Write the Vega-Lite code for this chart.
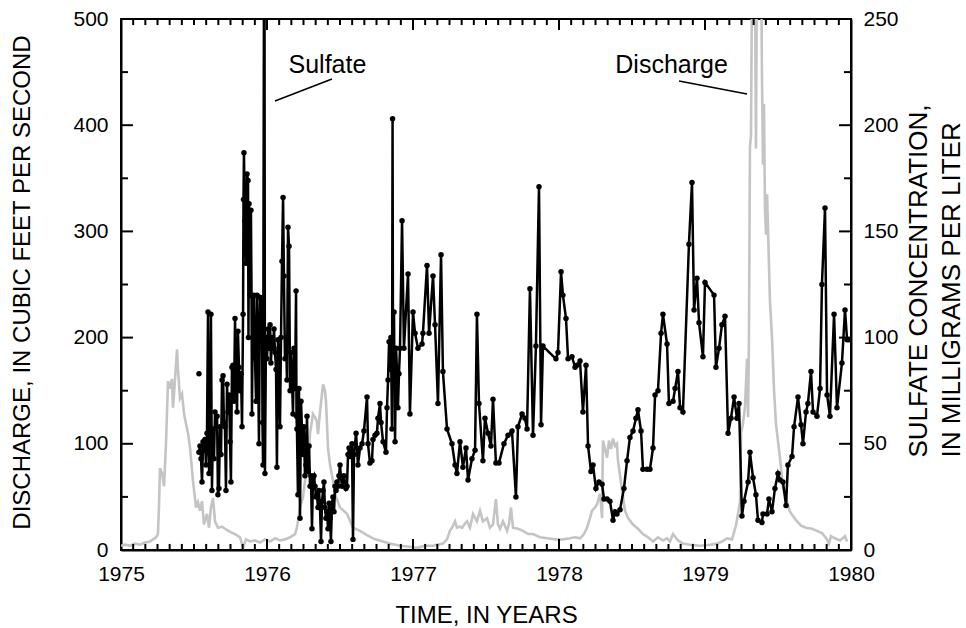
{
  "$schema": "https://vega.github.io/schema/vega-lite/v6.json",
  "width": 730,
  "height": 531,
  "autosize": "none",
  "padding": {"left": 121, "top": 19, "right": 115, "bottom": 78},
  "background": "white",
  "config": {
    "view": {"stroke": "black", "strokeWidth": 2},
    "font": "Liberation Sans",
    "axis": {
      "labelFont": "Liberation Sans",
      "titleFont": "Liberation Sans",
      "labelColor": "black",
      "titleColor": "black",
      "titleFontWeight": "normal",
      "grid": false,
      "domainColor": "black",
      "domainWidth": 2,
      "labelOverlap": false,
      "labelFlush": false
    }
  },
  "datasets": {
    "discharge": [
      {"year":1975.000,"q":4},{"year":1975.027,"q":5},{"year":1975.062,"q":4},{"year":1975.096,"q":6},{"year":1975.130,"q":5},{"year":1975.164,"q":7},{"year":1975.199,"q":8},{"year":1975.219,"q":10},{"year":1975.240,"q":12},{"year":1975.253,"q":15},{"year":1975.260,"q":40},{"year":1975.267,"q":77},{"year":1975.281,"q":72},{"year":1975.295,"q":60},{"year":1975.308,"q":100},{"year":1975.322,"q":159},{"year":1975.336,"q":152},{"year":1975.349,"q":161},{"year":1975.356,"q":134},{"year":1975.363,"q":147},{"year":1975.377,"q":175},{"year":1975.384,"q":189},{"year":1975.390,"q":171},{"year":1975.404,"q":143},{"year":1975.418,"q":147},{"year":1975.432,"q":128},{"year":1975.445,"q":119},{"year":1975.459,"q":110},{"year":1975.473,"q":96},{"year":1975.493,"q":65},{"year":1975.514,"q":40},{"year":1975.527,"q":45},{"year":1975.541,"q":37},{"year":1975.555,"q":46},{"year":1975.568,"q":24},{"year":1975.589,"q":34},{"year":1975.603,"q":21},{"year":1975.616,"q":40},{"year":1975.630,"q":49},{"year":1975.644,"q":27},{"year":1975.664,"q":21},{"year":1975.692,"q":22},{"year":1975.712,"q":20},{"year":1975.747,"q":17},{"year":1975.781,"q":15},{"year":1975.815,"q":12},{"year":1975.836,"q":2},{"year":1975.856,"q":10},{"year":1975.884,"q":8},{"year":1975.918,"q":9},{"year":1975.952,"q":7},{"year":1975.986,"q":10},
      {"year":1976.021,"q":8},{"year":1976.055,"q":11},{"year":1976.089,"q":9},{"year":1976.123,"q":10},{"year":1976.158,"q":12},{"year":1976.192,"q":15},{"year":1976.205,"q":21},{"year":1976.226,"q":40},{"year":1976.247,"q":50},{"year":1976.260,"q":65},{"year":1976.281,"q":80},{"year":1976.295,"q":110},{"year":1976.315,"q":128},{"year":1976.329,"q":125},{"year":1976.342,"q":121},{"year":1976.349,"q":109},{"year":1976.363,"q":130},{"year":1976.384,"q":156},{"year":1976.397,"q":150},{"year":1976.404,"q":140},{"year":1976.418,"q":96},{"year":1976.432,"q":80},{"year":1976.452,"q":65},{"year":1976.473,"q":50},{"year":1976.500,"q":40},{"year":1976.548,"q":34},{"year":1976.589,"q":21},{"year":1976.637,"q":18},{"year":1976.685,"q":14},{"year":1976.740,"q":10},{"year":1976.795,"q":8},{"year":1976.842,"q":6},{"year":1976.911,"q":4},{"year":1976.979,"q":3},
      {"year":1977.027,"q":2},{"year":1977.082,"q":4},{"year":1977.137,"q":4},{"year":1977.205,"q":6},{"year":1977.233,"q":10},{"year":1977.253,"q":18},{"year":1977.267,"q":21},{"year":1977.288,"q":27},{"year":1977.301,"q":21},{"year":1977.322,"q":22},{"year":1977.336,"q":21},{"year":1977.356,"q":25},{"year":1977.370,"q":27},{"year":1977.390,"q":21},{"year":1977.411,"q":34},{"year":1977.438,"q":27},{"year":1977.459,"q":37},{"year":1977.479,"q":27},{"year":1977.507,"q":30},{"year":1977.527,"q":21},{"year":1977.548,"q":24},{"year":1977.568,"q":48},{"year":1977.582,"q":24},{"year":1977.596,"q":20},{"year":1977.616,"q":27},{"year":1977.644,"q":18},{"year":1977.658,"q":25},{"year":1977.671,"q":40},{"year":1977.685,"q":21},{"year":1977.719,"q":20},{"year":1977.753,"q":18},{"year":1977.788,"q":15},{"year":1977.822,"q":15},{"year":1977.870,"q":12},{"year":1977.918,"q":11},{"year":1977.973,"q":10},
      {"year":1978.027,"q":10},{"year":1978.075,"q":11},{"year":1978.110,"q":12},{"year":1978.144,"q":11},{"year":1978.171,"q":15},{"year":1978.192,"q":21},{"year":1978.212,"q":30},{"year":1978.226,"q":37},{"year":1978.247,"q":40},{"year":1978.260,"q":43},{"year":1978.281,"q":53},{"year":1978.295,"q":30},{"year":1978.301,"q":103},{"year":1978.315,"q":95},{"year":1978.329,"q":87},{"year":1978.342,"q":103},{"year":1978.356,"q":95},{"year":1978.370,"q":105},{"year":1978.384,"q":98},{"year":1978.397,"q":100},{"year":1978.404,"q":84},{"year":1978.418,"q":70},{"year":1978.432,"q":56},{"year":1978.452,"q":37},{"year":1978.473,"q":30},{"year":1978.507,"q":24},{"year":1978.541,"q":20},{"year":1978.575,"q":15},{"year":1978.610,"q":12},{"year":1978.644,"q":8},{"year":1978.678,"q":12},{"year":1978.712,"q":9},{"year":1978.740,"q":11},{"year":1978.760,"q":8},{"year":1978.781,"q":15},{"year":1978.815,"q":9},{"year":1978.849,"q":6},{"year":1978.897,"q":5},{"year":1978.966,"q":4},
      {"year":1979.034,"q":5},{"year":1979.082,"q":6},{"year":1979.116,"q":8},{"year":1979.151,"q":11},{"year":1979.185,"q":10},{"year":1979.212,"q":23},{"year":1979.226,"q":34},{"year":1979.240,"q":46},{"year":1979.247,"q":110},{"year":1979.260,"q":119},{"year":1979.274,"q":135},{"year":1979.288,"q":180},{"year":1979.295,"q":125},{"year":1979.301,"q":200},{"year":1979.308,"q":380},{"year":1979.315,"q":390},{"year":1979.322,"q":540},{"year":1979.342,"q":560},{"year":1979.349,"q":378},{"year":1979.356,"q":560},{"year":1979.384,"q":560},{"year":1979.390,"q":450},{"year":1979.397,"q":363},{"year":1979.404,"q":420},{"year":1979.411,"q":320},{"year":1979.418,"q":297},{"year":1979.425,"q":335},{"year":1979.432,"q":300},{"year":1979.445,"q":234},{"year":1979.459,"q":200},{"year":1979.473,"q":150},{"year":1979.486,"q":119},{"year":1979.514,"q":86},{"year":1979.534,"q":59},{"year":1979.582,"q":36},{"year":1979.623,"q":28},{"year":1979.658,"q":23},{"year":1979.692,"q":21},{"year":1979.733,"q":20},{"year":1979.767,"q":18},{"year":1979.801,"q":16},{"year":1979.836,"q":10},{"year":1979.849,"q":6},{"year":1979.863,"q":13},{"year":1979.890,"q":11},{"year":1979.925,"q":9},{"year":1979.959,"q":13},{"year":1979.973,"q":8}
    ],
    "sulfate": [
      {"year":1975.534,"so4":83,"seg":"a"},
      {"year":1975.534,"so4":46,"seg":"b"},{"year":1975.541,"so4":49,"seg":"b"},{"year":1975.548,"so4":43,"seg":"b"},{"year":1975.555,"so4":32,"seg":"b"},{"year":1975.562,"so4":51,"seg":"b"},{"year":1975.568,"so4":47,"seg":"b"},{"year":1975.575,"so4":52,"seg":"b"},{"year":1975.582,"so4":40,"seg":"b"},{"year":1975.589,"so4":55,"seg":"b"},{"year":1975.596,"so4":112,"seg":"b"},{"year":1975.603,"so4":36,"seg":"b"},{"year":1975.610,"so4":45,"seg":"b"},{"year":1975.616,"so4":111,"seg":"b"},{"year":1975.623,"so4":28,"seg":"b"},{"year":1975.630,"so4":57,"seg":"b"},{"year":1975.637,"so4":43,"seg":"b"},{"year":1975.644,"so4":65,"seg":"b"},{"year":1975.658,"so4":63,"seg":"b"},{"year":1975.664,"so4":26,"seg":"b"},{"year":1975.671,"so4":29,"seg":"b"},{"year":1975.678,"so4":58,"seg":"b"},{"year":1975.685,"so4":45,"seg":"b"},{"year":1975.692,"so4":80,"seg":"b"},{"year":1975.699,"so4":82,"seg":"b"},{"year":1975.705,"so4":60,"seg":"b"},{"year":1975.712,"so4":58,"seg":"b"},{"year":1975.719,"so4":28,"seg":"b"},{"year":1975.726,"so4":78,"seg":"b"},{"year":1975.733,"so4":65,"seg":"b"},{"year":1975.740,"so4":73,"seg":"b"},{"year":1975.747,"so4":51,"seg":"b"},{"year":1975.753,"so4":32,"seg":"b"},{"year":1975.760,"so4":86,"seg":"b"},{"year":1975.767,"so4":87,"seg":"b"},{"year":1975.774,"so4":70,"seg":"b"},{"year":1975.781,"so4":109,"seg":"b"},{"year":1975.788,"so4":80,"seg":"b"},{"year":1975.795,"so4":65,"seg":"b"},{"year":1975.801,"so4":103,"seg":"b"},{"year":1975.808,"so4":86,"seg":"b"},{"year":1975.815,"so4":75,"seg":"b"},{"year":1975.822,"so4":83,"seg":"b"},{"year":1975.829,"so4":58,"seg":"b"},{"year":1975.836,"so4":111,"seg":"b"},{"year":1975.839,"so4":165,"seg":"b"},{"year":1975.842,"so4":187,"seg":"b"},{"year":1975.849,"so4":155,"seg":"b"},{"year":1975.856,"so4":135,"seg":"b"},{"year":1975.863,"so4":177,"seg":"b"},{"year":1975.870,"so4":174,"seg":"b"},{"year":1975.873,"so4":100,"seg":"b"},{"year":1975.877,"so4":163,"seg":"b"},{"year":1975.884,"so4":120,"seg":"b"},{"year":1975.890,"so4":160,"seg":"b"},{"year":1975.894,"so4":120,"seg":"b"},{"year":1975.897,"so4":64,"seg":"b"},{"year":1975.904,"so4":119,"seg":"b"},{"year":1975.911,"so4":120,"seg":"b"},{"year":1975.918,"so4":90,"seg":"b"},{"year":1975.925,"so4":70,"seg":"b"},{"year":1975.932,"so4":120,"seg":"b"},{"year":1975.938,"so4":95,"seg":"b"},{"year":1975.945,"so4":50,"seg":"b"},{"year":1975.952,"so4":119,"seg":"b"},{"year":1975.959,"so4":106,"seg":"b"},{"year":1975.966,"so4":117,"seg":"b"},{"year":1975.969,"so4":60,"seg":"b"},{"year":1975.973,"so4":40,"seg":"b"},{"year":1975.979,"so4":260,"seg":"b"},{"year":1975.983,"so4":260,"seg":"b"},{"year":1975.986,"so4":36,"seg":"b"},
      {"year":1975.993,"so4":100,"seg":"b"},{"year":1976.000,"so4":90,"seg":"b"},{"year":1976.007,"so4":104,"seg":"b"},{"year":1976.014,"so4":95,"seg":"b"},{"year":1976.021,"so4":106,"seg":"b"},{"year":1976.027,"so4":88,"seg":"b"},{"year":1976.034,"so4":100,"seg":"b"},{"year":1976.041,"so4":95,"seg":"b"},{"year":1976.048,"so4":104,"seg":"b"},{"year":1976.055,"so4":93,"seg":"b"},{"year":1976.062,"so4":85,"seg":"b"},{"year":1976.068,"so4":39,"seg":"b"},{"year":1976.075,"so4":99,"seg":"b"},{"year":1976.082,"so4":95,"seg":"b"},{"year":1976.089,"so4":58,"seg":"b"},{"year":1976.096,"so4":100,"seg":"b"},{"year":1976.103,"so4":136,"seg":"b"},{"year":1976.110,"so4":166,"seg":"b"},{"year":1976.116,"so4":129,"seg":"b"},{"year":1976.123,"so4":90,"seg":"b"},{"year":1976.130,"so4":100,"seg":"b"},{"year":1976.137,"so4":80,"seg":"b"},{"year":1976.144,"so4":152,"seg":"b"},{"year":1976.151,"so4":143,"seg":"b"},{"year":1976.158,"so4":75,"seg":"b"},{"year":1976.164,"so4":93,"seg":"b"},{"year":1976.171,"so4":81,"seg":"b"},{"year":1976.178,"so4":64,"seg":"b"},{"year":1976.185,"so4":95,"seg":"b"},{"year":1976.192,"so4":76,"seg":"b"},{"year":1976.199,"so4":122,"seg":"b"},{"year":1976.202,"so4":63,"seg":"b"},{"year":1976.205,"so4":57,"seg":"b"},{"year":1976.212,"so4":26,"seg":"b"},{"year":1976.219,"so4":76,"seg":"b"},{"year":1976.226,"so4":15,"seg":"b"},{"year":1976.233,"so4":70,"seg":"b"},{"year":1976.240,"so4":56,"seg":"b"},{"year":1976.247,"so4":45,"seg":"b"},{"year":1976.253,"so4":58,"seg":"b"},{"year":1976.260,"so4":35,"seg":"b"},{"year":1976.267,"so4":40,"seg":"b"},{"year":1976.274,"so4":63,"seg":"b"},{"year":1976.281,"so4":37,"seg":"b"},{"year":1976.288,"so4":49,"seg":"b"},{"year":1976.295,"so4":30,"seg":"b"},{"year":1976.301,"so4":35,"seg":"b"},{"year":1976.308,"so4":10,"seg":"b"},{"year":1976.315,"so4":34,"seg":"b"},{"year":1976.322,"so4":35,"seg":"b"},{"year":1976.329,"so4":30,"seg":"b"},{"year":1976.336,"so4":25,"seg":"b"},{"year":1976.342,"so4":26,"seg":"b"},{"year":1976.349,"so4":20,"seg":"b"},{"year":1976.356,"so4":28,"seg":"b"},{"year":1976.363,"so4":20,"seg":"b"},{"year":1976.370,"so4":4,"seg":"b"},{"year":1976.377,"so4":23,"seg":"b"},{"year":1976.384,"so4":28,"seg":"b"},{"year":1976.390,"so4":32,"seg":"b"},{"year":1976.397,"so4":20,"seg":"b"},{"year":1976.404,"so4":15,"seg":"b"},{"year":1976.411,"so4":18,"seg":"b"},{"year":1976.418,"so4":10,"seg":"b"},{"year":1976.425,"so4":22,"seg":"b"},{"year":1976.432,"so4":15,"seg":"b"},{"year":1976.438,"so4":4,"seg":"b"},{"year":1976.445,"so4":22,"seg":"b"},{"year":1976.452,"so4":25,"seg":"b"},{"year":1976.459,"so4":18,"seg":"b"},{"year":1976.466,"so4":30,"seg":"b"},{"year":1976.473,"so4":28,"seg":"b"},{"year":1976.479,"so4":32,"seg":"b"},{"year":1976.486,"so4":30,"seg":"b"},{"year":1976.493,"so4":35,"seg":"b"},{"year":1976.500,"so4":40,"seg":"b"},{"year":1976.507,"so4":34,"seg":"b"},{"year":1976.514,"so4":30,"seg":"b"},{"year":1976.527,"so4":35,"seg":"b"},{"year":1976.541,"so4":29,"seg":"b"},{"year":1976.548,"so4":30,"seg":"b"},{"year":1976.555,"so4":45,"seg":"b"},{"year":1976.562,"so4":48,"seg":"b"},{"year":1976.568,"so4":44,"seg":"b"},{"year":1976.582,"so4":50,"seg":"b"},{"year":1976.589,"so4":5,"seg":"b"},{"year":1976.596,"so4":45,"seg":"b"},{"year":1976.610,"so4":55,"seg":"b"},{"year":1976.623,"so4":40,"seg":"b"},{"year":1976.637,"so4":48,"seg":"b"},{"year":1976.651,"so4":50,"seg":"b"},{"year":1976.664,"so4":56,"seg":"b"},{"year":1976.685,"so4":72,"seg":"b"},{"year":1976.692,"so4":50,"seg":"b"},{"year":1976.705,"so4":41,"seg":"b"},{"year":1976.719,"so4":42,"seg":"b"},{"year":1976.726,"so4":52,"seg":"b"},{"year":1976.740,"so4":54,"seg":"b"},{"year":1976.753,"so4":55,"seg":"b"},{"year":1976.760,"so4":62,"seg":"b"},{"year":1976.774,"so4":69,"seg":"b"},{"year":1976.781,"so4":60,"seg":"b"},{"year":1976.795,"so4":51,"seg":"b"},{"year":1976.815,"so4":46,"seg":"b"},{"year":1976.822,"so4":67,"seg":"b"},{"year":1976.829,"so4":80,"seg":"b"},{"year":1976.836,"so4":98,"seg":"b"},{"year":1976.842,"so4":85,"seg":"b"},{"year":1976.849,"so4":100,"seg":"b"},{"year":1976.856,"so4":57,"seg":"b"},{"year":1976.860,"so4":203,"seg":"b"},{"year":1976.863,"so4":90,"seg":"b"},{"year":1976.870,"so4":112,"seg":"b"},{"year":1976.873,"so4":80,"seg":"b"},{"year":1976.877,"so4":51,"seg":"b"},{"year":1976.884,"so4":95,"seg":"b"},{"year":1976.890,"so4":85,"seg":"b"},{"year":1976.897,"so4":67,"seg":"b"},{"year":1976.904,"so4":83,"seg":"b"},{"year":1976.911,"so4":95,"seg":"b"},{"year":1976.925,"so4":155,"seg":"b"},{"year":1976.938,"so4":95,"seg":"b"},{"year":1976.966,"so4":130,"seg":"b"},{"year":1976.979,"so4":64,"seg":"b"},
      {"year":1977.000,"so4":112,"seg":"b"},{"year":1977.014,"so4":102,"seg":"b"},{"year":1977.034,"so4":95,"seg":"b"},{"year":1977.062,"so4":97,"seg":"b"},{"year":1977.068,"so4":102,"seg":"b"},{"year":1977.096,"so4":134,"seg":"b"},{"year":1977.110,"so4":102,"seg":"b"},{"year":1977.137,"so4":129,"seg":"b"},{"year":1977.151,"so4":106,"seg":"b"},{"year":1977.171,"so4":69,"seg":"b"},{"year":1977.192,"so4":139,"seg":"b"},{"year":1977.205,"so4":84,"seg":"b"},{"year":1977.233,"so4":57,"seg":"b"},{"year":1977.267,"so4":50,"seg":"b"},{"year":1977.288,"so4":40,"seg":"b"},{"year":1977.301,"so4":36,"seg":"b"},{"year":1977.322,"so4":51,"seg":"b"},{"year":1977.342,"so4":39,"seg":"b"},{"year":1977.363,"so4":48,"seg":"b"},{"year":1977.377,"so4":33,"seg":"b"},{"year":1977.404,"so4":43,"seg":"b"},{"year":1977.425,"so4":47,"seg":"b"},{"year":1977.438,"so4":111,"seg":"b"},{"year":1977.452,"so4":69,"seg":"b"},{"year":1977.479,"so4":42,"seg":"b"},{"year":1977.493,"so4":62,"seg":"b"},{"year":1977.514,"so4":55,"seg":"b"},{"year":1977.534,"so4":49,"seg":"b"},{"year":1977.548,"so4":71,"seg":"b"},{"year":1977.568,"so4":41,"seg":"b"},{"year":1977.589,"so4":41,"seg":"b"},{"year":1977.623,"so4":50,"seg":"b"},{"year":1977.651,"so4":54,"seg":"b"},{"year":1977.678,"so4":56,"seg":"b"},{"year":1977.705,"so4":25,"seg":"b"},{"year":1977.719,"so4":58,"seg":"b"},{"year":1977.747,"so4":64,"seg":"b"},{"year":1977.767,"so4":62,"seg":"b"},{"year":1977.781,"so4":57,"seg":"b"},{"year":1977.801,"so4":123,"seg":"b"},{"year":1977.822,"so4":54,"seg":"b"},{"year":1977.842,"so4":96,"seg":"b"},{"year":1977.863,"so4":171,"seg":"b"},{"year":1977.877,"so4":59,"seg":"b"},{"year":1977.890,"so4":96,"seg":"b"},{"year":1977.979,"so4":90,"seg":"b"},{"year":1977.993,"so4":93,"seg":"b"},
      {"year":1978.014,"so4":131,"seg":"b"},{"year":1978.027,"so4":120,"seg":"b"},{"year":1978.048,"so4":109,"seg":"b"},{"year":1978.062,"so4":90,"seg":"b"},{"year":1978.089,"so4":91,"seg":"b"},{"year":1978.110,"so4":86,"seg":"b"},{"year":1978.123,"so4":87,"seg":"b"},{"year":1978.144,"so4":89,"seg":"b"},{"year":1978.164,"so4":65,"seg":"b"},{"year":1978.185,"so4":87,"seg":"b"},{"year":1978.199,"so4":49,"seg":"b"},{"year":1978.219,"so4":37,"seg":"b"},{"year":1978.233,"so4":40,"seg":"b"},{"year":1978.253,"so4":29,"seg":"b"},{"year":1978.274,"so4":32,"seg":"b"},{"year":1978.295,"so4":31,"seg":"b"},{"year":1978.308,"so4":24,"seg":"b"},{"year":1978.329,"so4":24,"seg":"b"},{"year":1978.349,"so4":23,"seg":"b"},{"year":1978.370,"so4":14,"seg":"b"},{"year":1978.384,"so4":18,"seg":"b"},{"year":1978.397,"so4":17,"seg":"b"},{"year":1978.418,"so4":19,"seg":"b"},{"year":1978.445,"so4":29,"seg":"b"},{"year":1978.466,"so4":42,"seg":"b"},{"year":1978.486,"so4":53,"seg":"b"},{"year":1978.507,"so4":56,"seg":"b"},{"year":1978.527,"so4":62,"seg":"b"},{"year":1978.541,"so4":66,"seg":"b"},{"year":1978.562,"so4":56,"seg":"b"},{"year":1978.575,"so4":38,"seg":"b"},{"year":1978.603,"so4":38,"seg":"b"},{"year":1978.623,"so4":38,"seg":"b"},{"year":1978.644,"so4":48,"seg":"b"},{"year":1978.658,"so4":73,"seg":"b"},{"year":1978.678,"so4":75,"seg":"b"},{"year":1978.699,"so4":102,"seg":"b"},{"year":1978.712,"so4":111,"seg":"b"},{"year":1978.740,"so4":97,"seg":"b"},{"year":1978.753,"so4":69,"seg":"b"},{"year":1978.781,"so4":70,"seg":"b"},{"year":1978.795,"so4":76,"seg":"b"},{"year":1978.815,"so4":84,"seg":"b"},{"year":1978.829,"so4":67,"seg":"b"},{"year":1978.849,"so4":65,"seg":"b"},{"year":1978.890,"so4":144,"seg":"b"},{"year":1978.911,"so4":173,"seg":"b"},{"year":1978.925,"so4":113,"seg":"b"},{"year":1978.945,"so4":128,"seg":"b"},{"year":1978.959,"so4":107,"seg":"b"},{"year":1978.986,"so4":91,"seg":"b"},
      {"year":1979.000,"so4":126,"seg":"b"},{"year":1979.062,"so4":120,"seg":"b"},{"year":1979.075,"so4":86,"seg":"b"},{"year":1979.096,"so4":95,"seg":"b"},{"year":1979.116,"so4":106,"seg":"b"},{"year":1979.137,"so4":110,"seg":"b"},{"year":1979.158,"so4":55,"seg":"b"},{"year":1979.178,"so4":62,"seg":"b"},{"year":1979.199,"so4":72,"seg":"b"},{"year":1979.219,"so4":62,"seg":"b"},{"year":1979.233,"so4":69,"seg":"b"},{"year":1979.253,"so4":16,"seg":"b"},{"year":1979.267,"so4":23,"seg":"b"},{"year":1979.295,"so4":32,"seg":"b"},{"year":1979.308,"so4":46,"seg":"b"},{"year":1979.329,"so4":34,"seg":"b"},{"year":1979.349,"so4":26,"seg":"b"},{"year":1979.363,"so4":14,"seg":"b"},{"year":1979.390,"so4":13,"seg":"b"},{"year":1979.397,"so4":17,"seg":"b"},{"year":1979.425,"so4":17,"seg":"b"},{"year":1979.438,"so4":24,"seg":"b"},{"year":1979.459,"so4":18,"seg":"b"},{"year":1979.479,"so4":29,"seg":"b"},{"year":1979.500,"so4":36,"seg":"b"},{"year":1979.514,"so4":33,"seg":"b"},{"year":1979.534,"so4":32,"seg":"b"},{"year":1979.555,"so4":21,"seg":"b"},{"year":1979.568,"so4":40,"seg":"b"},{"year":1979.596,"so4":44,"seg":"b"},{"year":1979.610,"so4":58,"seg":"b"},{"year":1979.637,"so4":72,"seg":"b"},{"year":1979.658,"so4":59,"seg":"b"},{"year":1979.671,"so4":50,"seg":"b"},{"year":1979.692,"so4":65,"seg":"b"},{"year":1979.705,"so4":69,"seg":"b"},{"year":1979.726,"so4":84,"seg":"b"},{"year":1979.740,"so4":65,"seg":"b"},{"year":1979.767,"so4":63,"seg":"b"},{"year":1979.788,"so4":76,"seg":"b"},{"year":1979.801,"so4":125,"seg":"b"},{"year":1979.822,"so4":161,"seg":"b"},{"year":1979.836,"so4":73,"seg":"b"},{"year":1979.856,"so4":63,"seg":"b"},{"year":1979.884,"so4":111,"seg":"b"},{"year":1979.904,"so4":67,"seg":"b"},{"year":1979.938,"so4":88,"seg":"b"},{"year":1979.959,"so4":113,"seg":"b"},{"year":1979.973,"so4":99,"seg":"b"},{"year":1979.986,"so4":99,"seg":"b"}
    ],
    "notes": [
      {"label":"Sulfate","year":1976.414,"q":449,"x1":1976.055,"y1":422.8,"x2":1976.445,"y2":443.5},
      {"label":"Discharge","year":1978.771,"q":449,"x1":1978.822,"y1":441.6,"x2":1979.288,"y2":429.4}
    ],
    "xticks": [
      {"t":1976,"kind":"major"},{"t":1977,"kind":"major"},{"t":1978,"kind":"major"},{"t":1979,"kind":"major"},
      {"t":1975.0833,"kind":"minor"},{"t":1975.1667,"kind":"minor"},{"t":1975.25,"kind":"minor"},{"t":1975.3333,"kind":"minor"},{"t":1975.4167,"kind":"minor"},{"t":1975.5,"kind":"minor"},{"t":1975.5833,"kind":"minor"},{"t":1975.6667,"kind":"minor"},{"t":1975.75,"kind":"minor"},{"t":1975.8333,"kind":"minor"},{"t":1975.9167,"kind":"minor"},
      {"t":1976.0833,"kind":"minor"},{"t":1976.1667,"kind":"minor"},{"t":1976.25,"kind":"minor"},{"t":1976.3333,"kind":"minor"},{"t":1976.4167,"kind":"minor"},{"t":1976.5,"kind":"minor"},{"t":1976.5833,"kind":"minor"},{"t":1976.6667,"kind":"minor"},{"t":1976.75,"kind":"minor"},{"t":1976.8333,"kind":"minor"},{"t":1976.9167,"kind":"minor"},
      {"t":1977.0833,"kind":"minor"},{"t":1977.1667,"kind":"minor"},{"t":1977.25,"kind":"minor"},{"t":1977.3333,"kind":"minor"},{"t":1977.4167,"kind":"minor"},{"t":1977.5,"kind":"minor"},{"t":1977.5833,"kind":"minor"},{"t":1977.6667,"kind":"minor"},{"t":1977.75,"kind":"minor"},{"t":1977.8333,"kind":"minor"},{"t":1977.9167,"kind":"minor"},
      {"t":1978.0833,"kind":"minor"},{"t":1978.1667,"kind":"minor"},{"t":1978.25,"kind":"minor"},{"t":1978.3333,"kind":"minor"},{"t":1978.4167,"kind":"minor"},{"t":1978.5,"kind":"minor"},{"t":1978.5833,"kind":"minor"},{"t":1978.6667,"kind":"minor"},{"t":1978.75,"kind":"minor"},{"t":1978.8333,"kind":"minor"},{"t":1978.9167,"kind":"minor"},
      {"t":1979.0833,"kind":"minor"},{"t":1979.1667,"kind":"minor"},{"t":1979.25,"kind":"minor"},{"t":1979.3333,"kind":"minor"},{"t":1979.4167,"kind":"minor"},{"t":1979.5,"kind":"minor"},{"t":1979.5833,"kind":"minor"},{"t":1979.6667,"kind":"minor"},{"t":1979.75,"kind":"minor"},{"t":1979.8333,"kind":"minor"},{"t":1979.9167,"kind":"minor"}
    ],
    "yticks": [
      {"v":100,"kind":"major"},{"v":200,"kind":"major"},{"v":300,"kind":"major"},{"v":400,"kind":"major"},
      {"v":50,"kind":"minor"},{"v":150,"kind":"minor"},{"v":250,"kind":"minor"},{"v":350,"kind":"minor"},{"v":450,"kind":"minor"}
    ]
  },
  "resolve": {"scale": {"y": "independent"}, "axis": {"x": "independent", "y": "independent"}},
  "layer": [
    {
      "data": {"name": "discharge"},
      "mark": {"type": "line", "color": "#c4c4c4", "strokeWidth": 2.6, "clip": true},
      "encoding": {
        "x": {"field": "year", "type": "quantitative", "scale": {"domain": [1975, 1980], "nice": false, "zero": false},
          "axis": {"orient": "bottom", "values": [1975, 1976, 1977, 1978, 1979, 1980], "format": "d", "ticks": false, "domain": true, "labelFontSize": 21, "labelPadding": 13,
            "title": "TIME, IN YEARS", "titleFontSize": 24, "titleX": 365, "titleY": 72, "titleAlign": "center", "titleBaseline": "alphabetic"}},
        "y": {"field": "q", "type": "quantitative", "scale": {"domain": [0, 500], "nice": false, "zero": true},
          "axis": {"orient": "left", "values": [0, 100, 200, 300, 400, 500], "ticks": false, "domain": true, "labelFontSize": 21, "labelPadding": 13,
            "title": "DISCHARGE, IN CUBIC FEET PER SECOND", "titleFontSize": 24, "titleX": -99, "titleY": 263, "titleAngle": -90, "titleAlign": "center", "titleBaseline": "middle"}}
      }
    },
    {
      "data": {"name": "sulfate"},
      "mark": {"type": "line", "color": "black", "strokeWidth": 2.5, "clip": true},
      "encoding": {
        "x": {"field": "year", "type": "quantitative", "scale": {"domain": [1975, 1980], "nice": false, "zero": false}, "axis": null},
        "y": {"field": "so4", "type": "quantitative", "scale": {"domain": [0, 250], "nice": false, "zero": true},
          "axis": {"orient": "right", "values": [0, 50, 100, 150, 200, 250], "ticks": false, "domain": true, "labelFontSize": 21, "labelPadding": 12,
            "title": ["SULFATE CONCENTRATION,", "IN MILLIGRAMS PER LITER"], "titleFontSize": 26, "titleLineHeight": 33, "titleAngle": -90, "titleAlign": "left", "titleBaseline": "top", "titleX": 54, "titleY": 438}},
        "detail": {"field": "seg", "type": "nominal"}
      }
    },
    {
      "data": {"name": "sulfate"},
      "mark": {"type": "point", "filled": true, "color": "black", "size": 30, "opacity": 1, "clip": true},
      "encoding": {
        "x": {"field": "year", "type": "quantitative", "scale": {"domain": [1975, 1980], "nice": false, "zero": false}, "axis": null},
        "y": {"field": "so4", "type": "quantitative", "scale": {"domain": [0, 250], "nice": false, "zero": true}, "axis": null}
      }
    },
    {
      "data": {"name": "notes"},
      "mark": {"type": "rule", "color": "black", "strokeWidth": 1.5},
      "encoding": {
        "x": {"field": "x1", "type": "quantitative", "scale": {"domain": [1975, 1980], "nice": false, "zero": false}, "axis": null},
        "x2": {"field": "x2"},
        "y": {"field": "y1", "type": "quantitative", "scale": {"domain": [0, 500], "nice": false, "zero": true}, "axis": null},
        "y2": {"field": "y2"}
      }
    },
    {
      "data": {"name": "notes"},
      "mark": {"type": "text", "color": "black", "fontSize": 25, "font": "Liberation Sans", "align": "center", "baseline": "alphabetic"},
      "encoding": {
        "x": {"field": "year", "type": "quantitative", "scale": {"domain": [1975, 1980], "nice": false, "zero": false}, "axis": null},
        "y": {"field": "q", "type": "quantitative", "scale": {"domain": [0, 500], "nice": false, "zero": true}, "axis": null},
        "text": {"field": "label", "type": "nominal"}
      }
    },
    {
      "data": {"name": "xticks"},
      "transform": [{"filter": "datum.kind == 'major'"}],
      "mark": {"type": "rule", "color": "black", "strokeWidth": 2},
      "encoding": {
        "x": {"field": "t", "type": "quantitative", "scale": {"domain": [1975, 1980], "nice": false, "zero": false}, "axis": null},
        "y": {"datum": 0, "type": "quantitative", "scale": {"domain": [0, 500], "nice": false, "zero": true}, "axis": null},
        "y2": {"datum": 10.4}
      }
    },
    {
      "data": {"name": "xticks"},
      "transform": [{"filter": "datum.kind == 'minor'"}],
      "mark": {"type": "rule", "color": "black", "strokeWidth": 2},
      "encoding": {
        "x": {"field": "t", "type": "quantitative", "scale": {"domain": [1975, 1980], "nice": false, "zero": false}, "axis": null},
        "y": {"datum": 0, "type": "quantitative", "scale": {"domain": [0, 500], "nice": false, "zero": true}, "axis": null},
        "y2": {"datum": 5.7}
      }
    },
    {
      "data": {"name": "xticks"},
      "transform": [{"filter": "datum.kind == 'major'"}],
      "mark": {"type": "rule", "color": "black", "strokeWidth": 2},
      "encoding": {
        "x": {"field": "t", "type": "quantitative", "scale": {"domain": [1975, 1980], "nice": false, "zero": false}, "axis": null},
        "y": {"datum": 500, "type": "quantitative", "scale": {"domain": [0, 500], "nice": false, "zero": true}, "axis": null},
        "y2": {"datum": 489.6}
      }
    },
    {
      "data": {"name": "xticks"},
      "transform": [{"filter": "datum.kind == 'minor'"}],
      "mark": {"type": "rule", "color": "black", "strokeWidth": 2},
      "encoding": {
        "x": {"field": "t", "type": "quantitative", "scale": {"domain": [1975, 1980], "nice": false, "zero": false}, "axis": null},
        "y": {"datum": 500, "type": "quantitative", "scale": {"domain": [0, 500], "nice": false, "zero": true}, "axis": null},
        "y2": {"datum": 494.3}
      }
    },
    {
      "data": {"name": "yticks"},
      "transform": [{"filter": "datum.kind == 'major'"}],
      "mark": {"type": "rule", "color": "black", "strokeWidth": 2},
      "encoding": {
        "x": {"datum": 1975, "type": "quantitative", "scale": {"domain": [1975, 1980], "nice": false, "zero": false}, "axis": null},
        "x2": {"datum": 1975.082},
        "y": {"field": "v", "type": "quantitative", "scale": {"domain": [0, 500], "nice": false, "zero": true}, "axis": null}
      }
    },
    {
      "data": {"name": "yticks"},
      "transform": [{"filter": "datum.kind == 'minor'"}],
      "mark": {"type": "rule", "color": "black", "strokeWidth": 2},
      "encoding": {
        "x": {"datum": 1975, "type": "quantitative", "scale": {"domain": [1975, 1980], "nice": false, "zero": false}, "axis": null},
        "x2": {"datum": 1975.048},
        "y": {"field": "v", "type": "quantitative", "scale": {"domain": [0, 500], "nice": false, "zero": true}, "axis": null}
      }
    },
    {
      "data": {"name": "yticks"},
      "transform": [{"filter": "datum.kind == 'major'"}],
      "mark": {"type": "rule", "color": "black", "strokeWidth": 2},
      "encoding": {
        "x": {"datum": 1980, "type": "quantitative", "scale": {"domain": [1975, 1980], "nice": false, "zero": false}, "axis": null},
        "x2": {"datum": 1979.918},
        "y": {"field": "v", "type": "quantitative", "scale": {"domain": [0, 500], "nice": false, "zero": true}, "axis": null}
      }
    },
    {
      "data": {"name": "yticks"},
      "transform": [{"filter": "datum.kind == 'minor'"}],
      "mark": {"type": "rule", "color": "black", "strokeWidth": 2},
      "encoding": {
        "x": {"datum": 1980, "type": "quantitative", "scale": {"domain": [1975, 1980], "nice": false, "zero": false}, "axis": null},
        "x2": {"datum": 1979.952},
        "y": {"field": "v", "type": "quantitative", "scale": {"domain": [0, 500], "nice": false, "zero": true}, "axis": null}
      }
    }
  ]
}
